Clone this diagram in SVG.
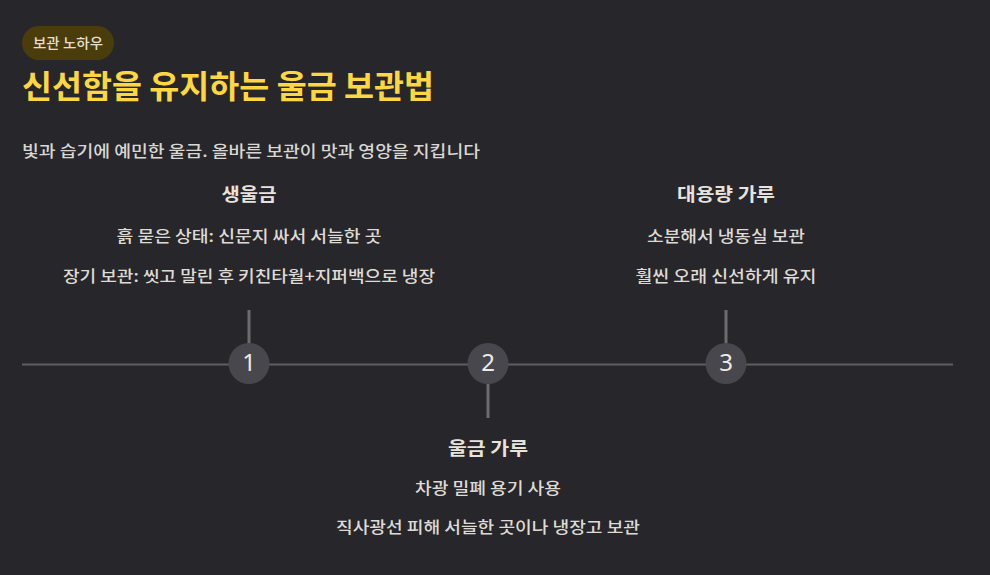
<svg xmlns="http://www.w3.org/2000/svg" width="990" height="575" viewBox="0 0 990 575">
<style>
text{font-family:"Noto Sans CJK KR","Noto Sans",sans-serif}
.tt{font-size:18px;font-weight:700;fill:#e6e3dc;text-anchor:middle}
.ln{font-size:16px;font-weight:500;fill:#dedbd4;text-anchor:middle}
.num{font-family:"Noto Sans",sans-serif;font-size:24px;fill:#ecebe4;text-anchor:middle}
.dot{fill:#48474d}
.stem{stroke:#6c6b70;stroke-width:3}
</style>
<rect width="990" height="575" fill="#27262b"/>
<g id="header">
<rect x="22" y="26" width="92" height="34" rx="17" fill="#4b3d0b"/>
<text x="68" y="48" textLength="70" lengthAdjust="spacingAndGlyphs" style="font-size:14px;font-weight:500;fill:#e6dfcf" text-anchor="middle">보관 노하우</text>
<text x="22" y="98" textLength="412" lengthAdjust="spacingAndGlyphs" style="font-size:32px;font-weight:700;fill:#fdd742">신선함을 유지하는 울금 보관법</text>
<text x="22" y="157" textLength="458" lengthAdjust="spacingAndGlyphs" style="font-size:16px;font-weight:500;fill:#d9d7d2">빛과 습기에 예민한 울금. 올바른 보관이 맛과 영양을 지킵니다</text>
</g>
<g id="connectors">
<line x1="22" y1="364.5" x2="953" y2="364.5" stroke="#5f5e63" stroke-width="2"/>
<line class="stem" x1="249" y1="310" x2="249" y2="345"/>
<line class="stem" x1="488" y1="384" x2="488" y2="418"/>
<line class="stem" x1="726" y1="310" x2="726" y2="345"/>
</g>
<g id="node1">
<circle class="dot" cx="249" cy="363.5" r="20.5"/>
<text class="num" x="249" y="371">1</text>
<text class="tt" x="249" y="201" textLength="55" lengthAdjust="spacingAndGlyphs">생울금</text>
<text class="ln" x="249" y="242" textLength="265" lengthAdjust="spacingAndGlyphs">흙 묻은 상태: 신문지 싸서 서늘한 곳</text>
<text class="ln" x="249" y="282" textLength="372" lengthAdjust="spacingAndGlyphs">장기 보관: 씻고 말린 후 키친타월+지퍼백으로 냉장</text>
</g>
<g id="node2">
<circle class="dot" cx="488" cy="363.5" r="20.5"/>
<text class="num" x="488" y="371">2</text>
<text class="tt" x="488" y="455" textLength="80" lengthAdjust="spacingAndGlyphs">울금 가루</text>
<text class="ln" x="488" y="494" textLength="146" lengthAdjust="spacingAndGlyphs">차광 밀폐 용기 사용</text>
<text class="ln" x="488" y="533" textLength="304" lengthAdjust="spacingAndGlyphs">직사광선 피해 서늘한 곳이나 냉장고 보관</text>
</g>
<g id="node3">
<circle class="dot" cx="726" cy="363.5" r="20.5"/>
<text class="num" x="726" y="371">3</text>
<text class="tt" x="726" y="201" textLength="98" lengthAdjust="spacingAndGlyphs">대용량 가루</text>
<text class="ln" x="726" y="242" textLength="158" lengthAdjust="spacingAndGlyphs">소분해서 냉동실 보관</text>
<text class="ln" x="726" y="282" textLength="181" lengthAdjust="spacingAndGlyphs">훨씬 오래 신선하게 유지</text>
</g>
</svg>
